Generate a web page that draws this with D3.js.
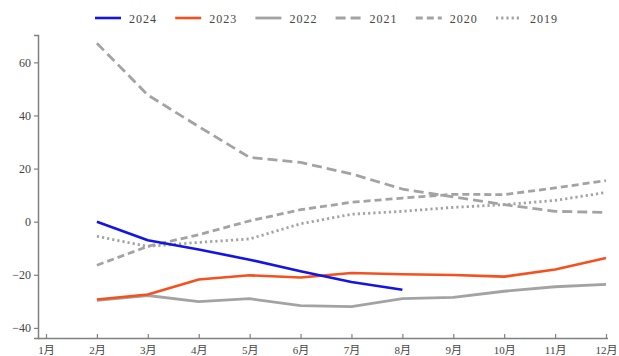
<!DOCTYPE html>
<html>
<head>
<meta charset="utf-8">
<script src="https://cdn.jsdelivr.net/npm/d3@7/dist/d3.min.js"></script>
<style>
  html, body { margin: 0; padding: 0; background: #fff; }
  svg { display: block; }
  text { font-family: "Liberation Serif", "Noto Sans CJK SC", serif; fill: #444; }
</style>
</head>
<body>
<svg id="chart" width="619" height="356"></svg>
<script>
const months = [1,2,3,4,5,6,7,8,9,10,11,12];
const monthLabels = ["1月","2月","3月","4月","5月","6月","7月","8月","9月","10月","11月","12月"];
const yTicks = [-40,-20,0,20,40,60];

const seriesNames = ["2024","2023","2022","2021","2020","2019"];
const seriesMonths = [2,3,4,5,6,7,8,9,10,11,12];
const v2024 = [0,-7,-10.5,-14.3,-18.7,-22.7,-25.6];
const v2023 = [-29.3,-27.4,-21.8,-20.2,-21.0,-19.3,-19.8,-20.1,-20.7,-18.0,-13.7];
const v2022 = [-29.6,-27.8,-30.1,-29.0,-31.6,-32.0,-29.0,-28.5,-26.2,-24.5,-23.6];
const v2021 = [67.2,47.7,35.8,24.2,22.3,18.0,12.3,9.3,6.4,3.9,3.5];
const v2020 = [-16.4,-9.3,-4.9,0.3,4.5,7.3,8.9,10.3,10.2,12.7,15.5];
const v2019 = [-5.5,-9.3,-7.8,-6.5,-0.8,2.8,3.9,5.4,6.4,8.0,11.0];

const colors = ["#1414e6","#f5501e","#a3a3a3","#a3a3a3","#a3a3a3","#a3a3a3"];
const dashes = [null,null,null,"10,5","7,4","2.2,3"];
const values = [v2024,v2023,v2022,v2021,v2020,v2019];

const svg = d3.select("#chart");
const x = d3.scaleLinear().domain([1,12]).range([46,606]);
const y = d3.scaleLinear().domain([-43.8,70.3]).range([338,35]);

// y axis
const yAxis = svg.append("g").attr("transform","translate(38,0)")
  .call(d3.axisLeft(y).tickValues(yTicks).tickSize(4).tickPadding(3)
    .tickFormat(d => d < 0 ? "−" + Math.abs(d) : d));
yAxis.select(".domain").attr("stroke","#808080").attr("stroke-width",1.5);
yAxis.selectAll(".tick line").attr("stroke","#808080").attr("stroke-width",1.2);
yAxis.selectAll(".tick text").attr("font-size",12).attr("fill","#444")
  .attr("font-family","Liberation Serif, serif");

// x axis
const xAxis = svg.append("g").attr("transform","translate(0,338)")
  .call(d3.axisBottom(x).tickValues(months).tickSize(-4).tickSizeOuter(0).tickPadding(8)
    .tickFormat((d,i) => monthLabels[i]));
xAxis.select(".domain").attr("d","M38,0.5H608").attr("stroke","#808080").attr("stroke-width",1.5);
xAxis.selectAll(".tick line").attr("stroke","#808080").attr("stroke-width",1.2);
xAxis.selectAll(".tick text").attr("font-size",11).attr("fill","#444");

// lines
const line = d3.line().x(d => x(d[0])).y(d => y(d[1]));
// draw gray first then colored on top
const order = [5,4,3,2,1,0];
order.forEach(i => {
  const pts = values[i].map((v,j) => [seriesMonths[j], v]);
  svg.append("path").datum(pts)
    .attr("d", line)
    .attr("fill","none")
    .attr("stroke", colors[i])
    .attr("stroke-width", i < 2 ? 2.6 : 2.8)
    .attr("stroke-dasharray", dashes[i])
    .attr("stroke-linejoin","round");
});

// legend
const legend = svg.append("g");
seriesNames.forEach((name,i) => {
  const lx = 95 + i*80.2;
  legend.append("line").attr("x1",lx).attr("x2",lx+26).attr("y1",18).attr("y2",18)
    .attr("stroke",colors[i]).attr("stroke-width",i<2?2.6:2.8)
    .attr("stroke-dasharray",dashes[i]);
  legend.append("text").attr("x",lx+34).attr("y",22.5).attr("font-size",12)
    .attr("letter-spacing","1px").attr("fill","#444").text(name);
});
</script>
</body>
</html>
